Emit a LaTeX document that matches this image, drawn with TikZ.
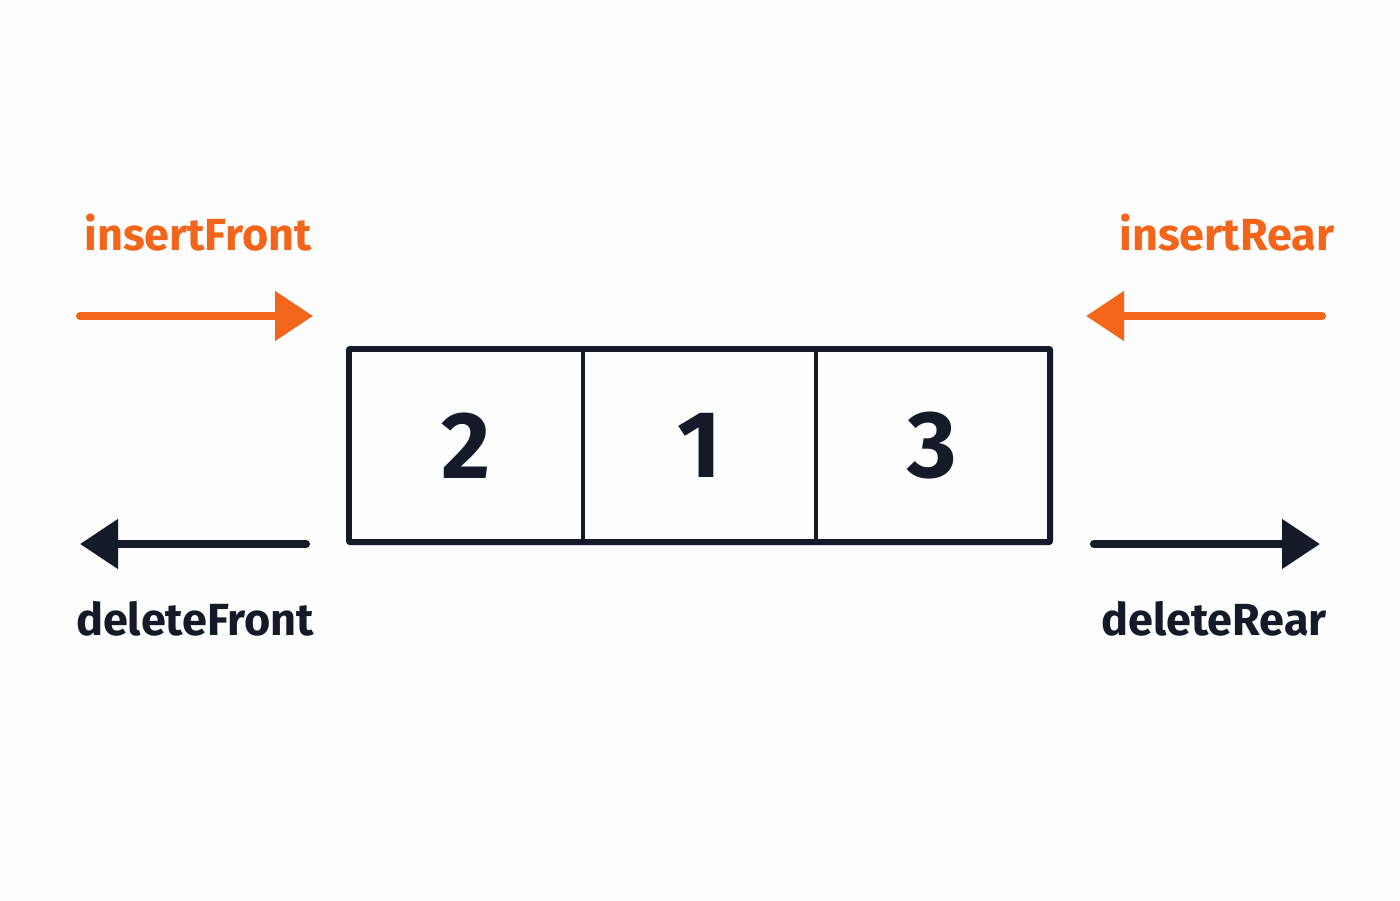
\documentclass[tikz,border=0pt]{standalone}
\usepackage{fontspec}
\setmainfont{Fira Sans}
\usetikzlibrary{arrows.meta}
\definecolor{ink}{HTML}{141A28}
\definecolor{accent}{HTML}{F2651A}
\definecolor{bg}{HTML}{FDFDFD}
\tikzset{
  cell/.style={draw=ink, line width=4pt, minimum width=233pt, minimum height=191pt, inner sep=0pt, font=\fontsize{95}{100}\selectfont\bfseries, text=ink},
  oparrow/.style={line width=8pt, line cap=round, -{Triangle[length=38pt,width=48pt]}},
  lbl/.style={font=\fontsize{45}{50}\selectfont\bfseries, inner sep=0pt, anchor=base}
}
\begin{document}
\begin{tikzpicture}[x=1pt,y=-1pt]
\fill[bg] (0,0) rectangle (1400,900);
\useasboundingbox (0,0) rectangle (1400,900);
\node[cell] (c1) at (466.5,445.5) {2};
\node[cell] (c2) at (699.5,445.5) {1};
\node[cell] (c3) at (932.5,445.5) {3};
\draw[ink, line width=4pt, rounded corners=2pt] (c1.north west) rectangle (c3.south east);
\coordinate (ifS) at (80,316);
\coordinate (ifE) at (313,316);
\coordinate (irS) at (1322,316);
\coordinate (irE) at (1086,316);
\coordinate (dfS) at (306,544);
\coordinate (dfE) at (80,544);
\coordinate (drS) at (1094,544);
\coordinate (drE) at (1320,544);
\draw[oparrow, accent] (ifS) -- (ifE);
\draw[oparrow, accent] (irS) -- (irE);
\draw[oparrow, ink] (dfS) -- (dfE);
\draw[oparrow, ink] (drS) -- (drE);
\node[lbl, text=accent] (tif) at (198,250) {insertFront};
\node[lbl, text=accent] (tir) at (1227,250) {insertRear};
\node[lbl, text=ink] (tdf) at (195,635) {deleteFront};
\node[lbl, text=ink] (tdr) at (1214,635) {deleteRear};
\end{tikzpicture}
\end{document}
